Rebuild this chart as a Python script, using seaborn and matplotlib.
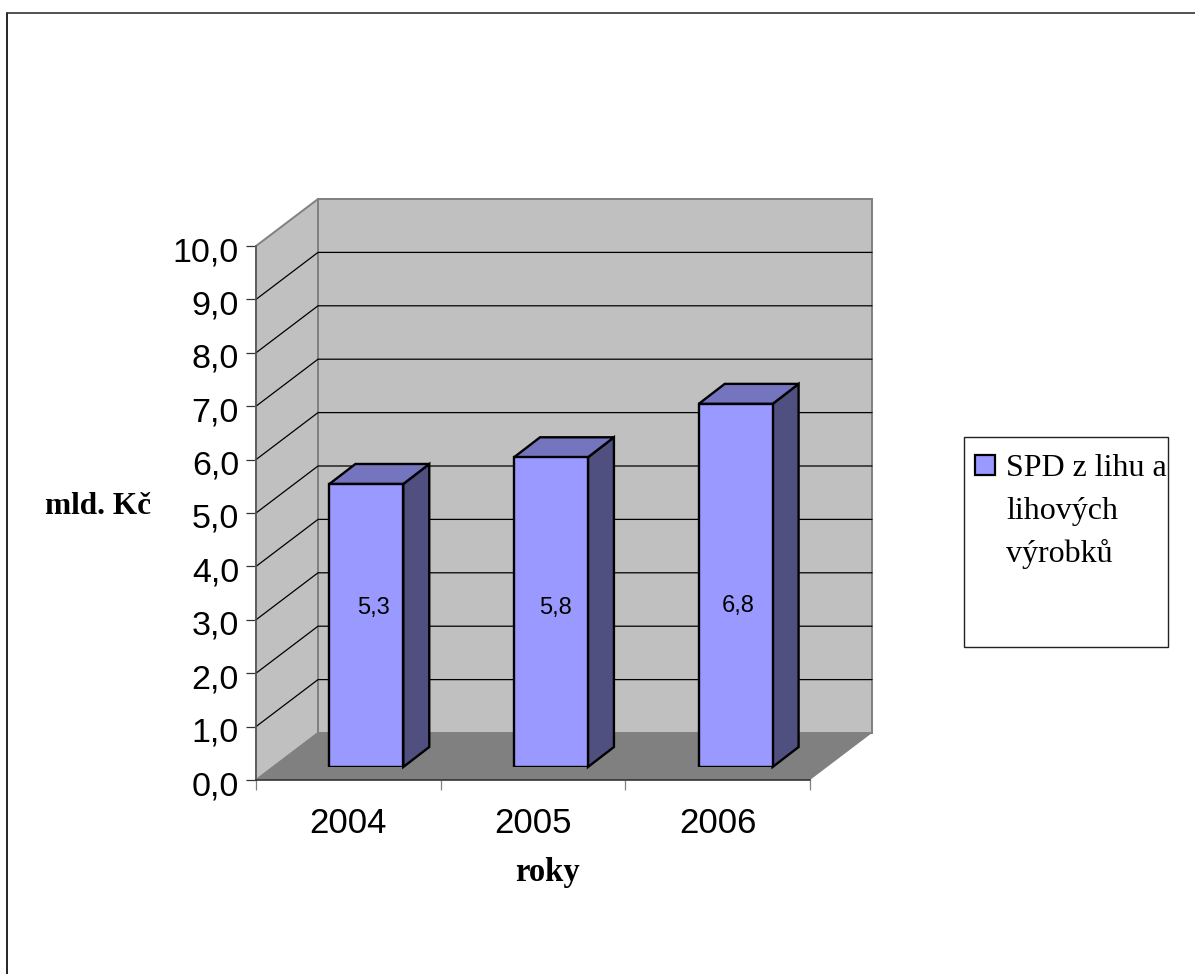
import matplotlib
matplotlib.use("Agg")
import matplotlib.pyplot as plt
from matplotlib.lines import Line2D
from matplotlib.patches import Polygon, Rectangle
from matplotlib.ticker import FuncFormatter
from matplotlib.transforms import ScaledTranslation
import pandas as pd
import seaborn as sns

# Data
years = ["2004", "2005", "2006"]
values = [5.3, 5.8, 6.8]
value_labels = ["5,3", "5,8", "6,8"]
y_ticks = [0, 1, 2, 3, 4, 5, 6, 7, 8, 9, 10]
series_label = ["SPD z lihu a", "lihových", "výrobků"]

# Figure geometry, in pixels
W, H = 1195, 974
PLOT_L, PLOT_R, PLOT_B, PLOT_T = 256, 810, 780, 246
WALL_DX, WALL_DY = 62, 47
BAR_DX, BAR_DY = 18, 13
FACE_DX, FACE_DY = 26, 20
LABEL_NUDGES = [(7.5, 0), (4.5, 0), (2.5, 2)]

BAR_FRONT = "#9999FF"
BAR_SIDE = "#4F4F80"
BAR_TOP = "#7575BF"
WALL = "#C0C0C0"
FLOOR = "#808080"
EDGE_GREY = "#808080"

sns.set_theme(style="white")
plt.rcParams["font.family"] = ["Liberation Sans", "DejaVu Sans"]
SERIF = ["Liberation Serif", "DejaVu Serif"]


def fig_x(px):
    return px / W


def fig_y(px):
    return 1 - px / H


def axes_rect(left, right, bottom, top):
    return [fig_x(left), fig_y(bottom), (right - left) / W, (bottom - top) / H]


fig = plt.figure(figsize=(W / 100, H / 100), dpi=100, facecolor="white")

# Front plane of the plot: carries the axes, ticks and the 3-D walls
ax = fig.add_axes(axes_rect(PLOT_L, PLOT_R, PLOT_B, PLOT_T), zorder=1)
ax.set_xlim(-0.5, 2.5)
ax.set_ylim(0, 10)
ax.patch.set_visible(False)

px_x = 3 / (PLOT_R - PLOT_L)
px_y = 10 / (PLOT_B - PLOT_T)
wx, wy = WALL_DX * px_x, WALL_DY * px_y
x0, x1 = -0.5, 2.5

ax.add_patch(Polygon([(x0 + wx, wy), (x1 + wx, wy), (x1 + wx, 10 + wy), (x0 + wx, 10 + wy)],
                     closed=True, facecolor=WALL, edgecolor=EDGE_GREY, linewidth=1.4,
                     clip_on=False, zorder=1))
ax.add_patch(Polygon([(x0, 0), (x0 + wx, wy), (x0 + wx, 10 + wy), (x0, 10)],
                     closed=True, facecolor=WALL, edgecolor=EDGE_GREY, linewidth=1.4,
                     clip_on=False, zorder=1))
ax.add_patch(Polygon([(x0, 0), (x1, 0), (x1 + wx, wy), (x0 + wx, wy)],
                     closed=True, facecolor=FLOOR, edgecolor="none",
                     clip_on=False, zorder=1.5))

# The wall gridlines stop short of the top edge, which already closes the wall
for tick in y_ticks[1:-1]:
    ax.plot([x0, x0 + wx, x1 + wx], [tick, tick + wy, tick + wy],
            color="black", linewidth=0.9, clip_on=False, zorder=2)

ax.set_xticks(range(len(years)), labels=years)
ax.set_xticks([-0.5, 0.5, 1.5, 2.5], minor=True)
ax.set_yticks(y_ticks)
ax.yaxis.set_major_formatter(FuncFormatter(lambda v, _: f"{v:.1f}".replace(".", ",")))
ax.tick_params(axis="x", which="major", length=0, pad=19.5, labelsize=25, labelcolor="black")
ax.tick_params(axis="x", which="minor", length=7.2, width=0.9, color=EDGE_GREY, bottom=True)
ax.tick_params(axis="y", which="major", length=7.2, width=0.9, color="#333333", left=True,
               pad=5, labelsize=24.5, labelcolor="black")

# Numbers on the value axis hang slightly below their tick marks
fig.canvas.draw()
label_drop = ScaledTranslation(0, -3 / 100, fig.dpi_scale_trans)
for label in ax.get_yticklabels():
    label.set_transform(label.get_transform() + label_drop)

for name in ("top", "right"):
    ax.spines[name].set_visible(False)
ax.spines["left"].set_color("#555555")
ax.spines["left"].set_linewidth(1.1)
ax.spines["bottom"].set_color("#333333")
ax.spines["bottom"].set_linewidth(1.2)
for spine in ax.spines.values():
    spine.set_zorder(3)

ax.set_ylabel("mld. Kč", rotation=0, fontsize=22.5, fontweight="bold", family=SERIF,
              color="black", ha="center", va="center")
ax.yaxis.set_label_coords((98 - PLOT_L) / (PLOT_R - PLOT_L), (PLOT_B - 507) / (PLOT_B - PLOT_T))
ax.set_xlabel("roky", fontsize=23.5, fontweight="bold", family=SERIF,
              color="black", ha="center", va="center")
ax.xaxis.set_label_coords((547 - PLOT_L) / (PLOT_R - PLOT_L), (PLOT_B - 873) / (PLOT_B - PLOT_T))

# Bars sit on a plane set back from the front of the floor
bar_ax = fig.add_axes(axes_rect(PLOT_L + BAR_DX, PLOT_R + BAR_DX, PLOT_B - BAR_DY, PLOT_T - BAR_DY),
                      zorder=2)
frame = pd.DataFrame({"year": years, "value": values})
sns.barplot(data=frame, x="year", y="value", ax=bar_ax, color=BAR_FRONT, saturation=1,
            width=0.4, edgecolor="black", linewidth=1.7, errorbar=None, zorder=4)
bar_ax.set_xlim(-0.5, 2.5)
bar_ax.set_ylim(0, 10)
bar_ax.axis("off")

fx, fy = FACE_DX * px_x, FACE_DY * px_y
for i, bar in enumerate(bar_ax.patches):
    left, right = bar.get_x(), bar.get_x() + bar.get_width()
    top = bar.get_height()
    bar_ax.add_patch(Polygon([(right, 0), (right + fx, fy), (right + fx, top + fy), (right, top)],
                             closed=True, facecolor=BAR_SIDE, edgecolor="black", linewidth=1.7,
                             clip_on=False, zorder=3))
    bar_ax.add_patch(Polygon([(left, top), (right, top), (right + fx, top + fy), (left + fx, top + fy)],
                             closed=True, facecolor=BAR_TOP, edgecolor="black", linewidth=1.7,
                             clip_on=False, zorder=3))
    bar_ax.annotate(value_labels[i], xy=(i, 2.98), xytext=LABEL_NUDGES[i], textcoords="offset pixels",
                    ha="center", va="center", fontsize=17, color="black", zorder=6)

# Legend box, sized independently of its text
fig.add_artist(Rectangle((fig_x(964), fig_y(647)), (1168 - 964) / W, (647 - 437) / H,
                         transform=fig.transFigure, facecolor="white", edgecolor="#222222",
                         linewidth=1.0))
fig.add_artist(Rectangle((fig_x(975), fig_y(475)), 20 / W, 20 / H,
                         transform=fig.transFigure, facecolor=BAR_FRONT, edgecolor="black",
                         linewidth=1.6))
for row, line in enumerate(series_label):
    fig.text(fig_x(1006), fig_y(465 + row * 42.5), line, family=SERIF, fontsize=23,
             color="black", ha="left", va="center_baseline")

# Chart-area border along the top and left edges
fig.add_artist(Line2D([fig_x(7), fig_x(7)], [fig_y(13), 0], color="black", linewidth=1.2,
                      transform=fig.transFigure))
fig.add_artist(Line2D([fig_x(7), 1], [fig_y(13), fig_y(13)], color="#333333", linewidth=1.2,
                      transform=fig.transFigure))

fig.savefig("out.png", dpi=100)
